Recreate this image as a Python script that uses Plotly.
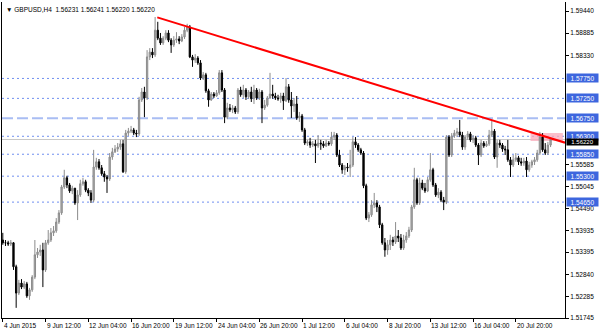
import plotly.graph_objects as go

# ---- data (GBPUSD H4) ----
first_open = 1.5370
close = [
    1.5363, 1.5363, 1.5360, 1.5363, 1.5303, 1.5237, 1.5262, 1.5252, 1.5260, 1.5230,
    1.5245, 1.5277, 1.5333, 1.5340, 1.5345, 1.5295, 1.5363, 1.5370, 1.5388, 1.5393,
    1.5415, 1.5438, 1.5503, 1.5526, 1.5508, 1.5493, 1.5500, 1.5463, 1.5483, 1.5511,
    1.5516, 1.5495, 1.5488, 1.5470, 1.5553, 1.5566, 1.5551, 1.5536, 1.5528, 1.5523,
    1.5578, 1.5591, 1.5598, 1.5603, 1.5611, 1.5541, 1.5638, 1.5643, 1.5646, 1.5638,
    1.5636, 1.5721, 1.5741, 1.5726, 1.5829, 1.5841, 1.5834, 1.5896, 1.5876, 1.5864,
    1.5876, 1.5889, 1.5871, 1.5859, 1.5871, 1.5874, 1.5869, 1.5879, 1.5896, 1.5904,
    1.5829, 1.5821, 1.5826, 1.5814, 1.5776, 1.5784, 1.5744, 1.5721, 1.5736, 1.5731,
    1.5739, 1.5789, 1.5746, 1.5678, 1.5701, 1.5696, 1.5701, 1.5691, 1.5746, 1.5734,
    1.5746, 1.5729, 1.5741, 1.5724, 1.5746, 1.5726, 1.5741, 1.5701, 1.5708, 1.5726,
    1.5736, 1.5731, 1.5726, 1.5724, 1.5731, 1.5719, 1.5754, 1.5721, 1.5706, 1.5711,
    1.5676, 1.5681, 1.5646, 1.5613, 1.5616, 1.5608, 1.5611, 1.5606, 1.5613, 1.5611,
    1.5606, 1.5613, 1.5611, 1.5628, 1.5633, 1.5583, 1.5558, 1.5546, 1.5553, 1.5551,
    1.5558, 1.5616, 1.5608, 1.5596, 1.5588, 1.5506, 1.5425, 1.5433, 1.5458, 1.5463,
    1.5453, 1.5408, 1.5363, 1.5345, 1.5358, 1.5370, 1.5365, 1.5380, 1.5375, 1.5350,
    1.5370, 1.5380, 1.5395, 1.5453, 1.5521, 1.5463, 1.5513, 1.5500, 1.5493, 1.5521,
    1.5546, 1.5508, 1.5483, 1.5490, 1.5470, 1.5465, 1.5628, 1.5583, 1.5631, 1.5638,
    1.5641, 1.5633, 1.5603, 1.5628, 1.5636, 1.5621, 1.5626, 1.5608, 1.5583, 1.5613,
    1.5606, 1.5611, 1.5633, 1.5643, 1.5578, 1.5613, 1.5608, 1.5598, 1.5596, 1.5571,
    1.5558, 1.5571, 1.5576, 1.5566, 1.5563, 1.5568, 1.5546, 1.5558, 1.5566, 1.5571,
    1.5588, 1.5628, 1.5596, 1.5588, 1.5608, 1.5623, 1.5622,
]
high = [
    1.5388, 1.5370, 1.5368, 1.5370, 1.5365, 1.5308, 1.5270, 1.5272, 1.5267, 1.5265,
    1.5250, 1.5282, 1.5370, 1.5350, 1.5358, 1.5363, 1.5370, 1.5395, 1.5400, 1.5405,
    1.5425, 1.5445, 1.5508, 1.5546, 1.5531, 1.5513, 1.5506, 1.5500, 1.5495, 1.5521,
    1.5526, 1.5521, 1.5500, 1.5495, 1.5596, 1.5576, 1.5573, 1.5558, 1.5543, 1.5533,
    1.5588, 1.5601, 1.5608, 1.5613, 1.5621, 1.5621, 1.5646, 1.5651, 1.5656, 1.5651,
    1.5646, 1.5729, 1.5751, 1.5754, 1.5846, 1.5851, 1.5851, 1.5929, 1.5917, 1.5889,
    1.5881, 1.5896, 1.5896, 1.5876, 1.5881, 1.5891, 1.5881, 1.5886, 1.5904, 1.5912,
    1.5909, 1.5834, 1.5836, 1.5831, 1.5821, 1.5791, 1.5789, 1.5749, 1.5741, 1.5741,
    1.5746, 1.5796, 1.5796, 1.5751, 1.5714, 1.5711, 1.5708, 1.5706, 1.5751, 1.5754,
    1.5759, 1.5751, 1.5746, 1.5754, 1.5759, 1.5751, 1.5749, 1.5746, 1.5721, 1.5731,
    1.5789, 1.5759, 1.5739, 1.5734, 1.5739, 1.5739, 1.5776, 1.5761, 1.5741, 1.5726,
    1.5731, 1.5691, 1.5686, 1.5651, 1.5621, 1.5626, 1.5618, 1.5621, 1.5633, 1.5621,
    1.5618, 1.5621, 1.5618, 1.5641, 1.5641, 1.5638, 1.5596, 1.5563, 1.5558, 1.5563,
    1.5596, 1.5628, 1.5628, 1.5613, 1.5601, 1.5593, 1.5511, 1.5440, 1.5470, 1.5488,
    1.5470, 1.5458, 1.5413, 1.5375, 1.5370, 1.5383, 1.5378, 1.5415, 1.5395, 1.5385,
    1.5383, 1.5390, 1.5403, 1.5458, 1.5551, 1.5526, 1.5526, 1.5521, 1.5513, 1.5528,
    1.5588, 1.5551, 1.5513, 1.5500, 1.5495, 1.5478, 1.5633, 1.5633, 1.5638, 1.5646,
    1.5651, 1.5671, 1.5641, 1.5633, 1.5643, 1.5641, 1.5633, 1.5631, 1.5613, 1.5621,
    1.5618, 1.5618, 1.5646, 1.5671, 1.5648, 1.5621, 1.5621, 1.5613, 1.5606, 1.5621,
    1.5578, 1.5583, 1.5588, 1.5581, 1.5576, 1.5576, 1.5578, 1.5566, 1.5571, 1.5578,
    1.5596, 1.5641, 1.5638, 1.5613, 1.5616, 1.5626, 1.5624,
]
low = [
    1.5358, 1.5355, 1.5355, 1.5355, 1.5295, 1.5200, 1.5232, 1.5247, 1.5247, 1.5225,
    1.5220, 1.5240, 1.5272, 1.5325, 1.5330, 1.5252, 1.5290, 1.5358, 1.5365, 1.5380,
    1.5388, 1.5410, 1.5433, 1.5498, 1.5500, 1.5488, 1.5485, 1.5458, 1.5420, 1.5478,
    1.5506, 1.5490, 1.5480, 1.5463, 1.5465, 1.5546, 1.5546, 1.5531, 1.5516, 1.5488,
    1.5518, 1.5571, 1.5588, 1.5591, 1.5596, 1.5538, 1.5536, 1.5631, 1.5638, 1.5633,
    1.5628, 1.5631, 1.5716, 1.5678, 1.5721, 1.5821, 1.5826, 1.5829, 1.5871, 1.5859,
    1.5859, 1.5871, 1.5866, 1.5839, 1.5854, 1.5864, 1.5861, 1.5866, 1.5874, 1.5891,
    1.5826, 1.5804, 1.5814, 1.5809, 1.5771, 1.5771, 1.5739, 1.5704, 1.5719, 1.5726,
    1.5729, 1.5734, 1.5741, 1.5663, 1.5673, 1.5691, 1.5688, 1.5686, 1.5686, 1.5729,
    1.5726, 1.5721, 1.5724, 1.5716, 1.5711, 1.5721, 1.5721, 1.5663, 1.5696, 1.5704,
    1.5724, 1.5724, 1.5721, 1.5719, 1.5714, 1.5696, 1.5716, 1.5714, 1.5676, 1.5691,
    1.5671, 1.5666, 1.5641, 1.5608, 1.5606, 1.5601, 1.5603, 1.5563, 1.5601, 1.5596,
    1.5601, 1.5603, 1.5606, 1.5606, 1.5621, 1.5578, 1.5553, 1.5536, 1.5533, 1.5541,
    1.5528, 1.5553, 1.5601, 1.5591, 1.5583, 1.5500, 1.5420, 1.5415, 1.5428, 1.5450,
    1.5440, 1.5400, 1.5358, 1.5328, 1.5333, 1.5345, 1.5355, 1.5360, 1.5365, 1.5345,
    1.5345, 1.5363, 1.5375, 1.5390, 1.5448, 1.5458, 1.5458, 1.5495, 1.5488, 1.5490,
    1.5516, 1.5503, 1.5478, 1.5475, 1.5465, 1.5445, 1.5460, 1.5578, 1.5578, 1.5626,
    1.5628, 1.5628, 1.5596, 1.5596, 1.5621, 1.5616, 1.5613, 1.5603, 1.5558, 1.5578,
    1.5601, 1.5603, 1.5606, 1.5628, 1.5573, 1.5551, 1.5601, 1.5591, 1.5583, 1.5566,
    1.5528, 1.5553, 1.5566, 1.5558, 1.5556, 1.5556, 1.5528, 1.5541, 1.5551, 1.5558,
    1.5566, 1.5583, 1.5591, 1.5583, 1.5583, 1.5603, 1.5622,
]
open_ = [first_open] + close[:-1]
bars = list(range(len(close)))

tick_bars = [0, 16, 32, 48, 64, 80, 96, 112, 128, 144, 160, 176, 192]
tick_text = ["4 Jun 2015", "9 Jun 12:00", "12 Jun 04:00", "16 Jun 20:00",
             "19 Jun 12:00", "24 Jun 04:00", "26 Jun 20:00", "1 Jul 12:00",
             "6 Jul 04:00", "8 Jul 20:00", "13 Jul 12:00", "16 Jul 04:00",
             "20 Jul 20:00"]

price_ticks = [1.59440, 1.58885, 1.58330, 1.55585, 1.55045, 1.54490,
               1.53935, 1.53395, 1.52840, 1.52285, 1.51745]

dotted_levels = [1.5775, 1.5725, 1.5630, 1.5585, 1.5530, 1.5465]
dashed_levels = [1.5675]
label_levels = [1.5775, 1.5725, 1.5675, 1.5630, 1.5585, 1.5530, 1.5465]
bid_price = 1.5622

trend_x = [57.8, 210.4]
trend_y = [1.5928, 1.5614]

zone_x = [197.5, 209.6]
zone_y = [1.5618, 1.5638]

title_text = "\u25bc GBPUSD,H4  1.56231 1.56241 1.56220 1.56220"

FONT = "Liberation Sans, Arial, sans-serif"
BLUE_LINE = "#6f8ff0"
LABEL_BG = "#3d66de"

fig = go.Figure()

fig.add_trace(go.Candlestick(
    x=bars, open=open_, high=high, low=low, close=close,
    increasing=dict(line=dict(color="#8c8c8c", width=1), fillcolor="#b0b0b0"),
    decreasing=dict(line=dict(color="#000000", width=1), fillcolor="#000000"),
    whiskerwidth=0, showlegend=False, hoverinfo="skip",
))

fig.add_trace(go.Scatter(
    x=trend_x, y=trend_y, mode="lines",
    line=dict(color="#ff0000", width=2), showlegend=False, hoverinfo="skip",
))

shapes = []
shapes.append(dict(type="rect", xref="x", yref="y", x0=zone_x[0], x1=zone_x[1],
                   y0=zone_y[0], y1=zone_y[1], fillcolor="rgba(250,170,185,0.75)",
                   line=dict(width=0), layer="below"))
for lv in dotted_levels:
    shapes.append(dict(type="line", xref="paper", yref="y", x0=0, x1=1, y0=lv, y1=lv,
                       line=dict(color=BLUE_LINE, width=1, dash="2px,3px"), layer="below"))
for lv in dashed_levels:
    shapes.append(dict(type="line", xref="paper", yref="y", x0=0, x1=1, y0=lv, y1=lv,
                       line=dict(color="#a9bdf3", width=2, dash="11px,4px"), layer="below"))
shapes.append(dict(type="line", xref="paper", yref="y", x0=0, x1=1, y0=bid_price, y1=bid_price,
                   line=dict(color="#c8c8c8", width=1), layer="below"))

annotations = []
for lv in label_levels:
    annotations.append(dict(xref="paper", yref="y", x=1, y=lv, xanchor="left", yanchor="middle",
                            xshift=1, text=f"{lv:.5f}", showarrow=False, bgcolor=LABEL_BG,
                            width=31, height=8, borderpad=0, align="center",
                            font=dict(family=FONT, size=6.5, color="white")))
annotations.append(dict(xref="paper", yref="y", x=1, y=bid_price, xanchor="left", yanchor="middle",
                        xshift=1, yshift=-3, text=f"{bid_price:.5f}", showarrow=False, bgcolor="#000000",
                        width=31, height=6, borderpad=0, align="center",
                        font=dict(family=FONT, size=6, color="white")))
annotations.append(dict(xref="paper", yref="paper", x=0, y=1, xanchor="left", yanchor="top",
                        xshift=2, yshift=-2, text=title_text, showarrow=False,
                        font=dict(family=FONT, size=6.5, color="black")))
for tb, tt in zip(tick_bars, tick_text):
    annotations.append(dict(xref="x", yref="paper", x=tb, y=0, xanchor="left", yanchor="top",
                            xshift=-1, yshift=-2, text=tt, showarrow=False,
                            font=dict(family=FONT, size=6.5, color="black")))

fig.update_layout(
    template="none",
    width=600, height=333,
    margin=dict(l=2, r=35, t=2, b=15, autoexpand=False),
    paper_bgcolor="white", plot_bgcolor="white",
    shapes=shapes, annotations=annotations,
    showlegend=False,
    font=dict(family=FONT, size=6.5, color="black"),
    xaxis=dict(
        range=[-0.3, 210.4], rangeslider=dict(visible=False), automargin=False,
        tickmode="array", tickvals=tick_bars, showticklabels=False,
        ticks="outside", ticklen=3, tickcolor="black", tickwidth=1,
        showgrid=False, zeroline=False, showline=True, linecolor="black", linewidth=1,
        fixedrange=True,
    ),
    yaxis=dict(
        range=[1.51745, 1.59666], side="right", automargin=False,
        tickmode="array", tickvals=price_ticks,
        ticktext=[f"{v:.5f}" for v in price_ticks],
        ticks="outside", ticklen=3, tickcolor="black", tickwidth=1,
        showgrid=False, zeroline=False, showline=True, mirror=True,
        linecolor="black", linewidth=1,
        tickfont=dict(family=FONT, size=6.5, color="black"), fixedrange=True,
    ),
)

fig.write_html("out.html")
